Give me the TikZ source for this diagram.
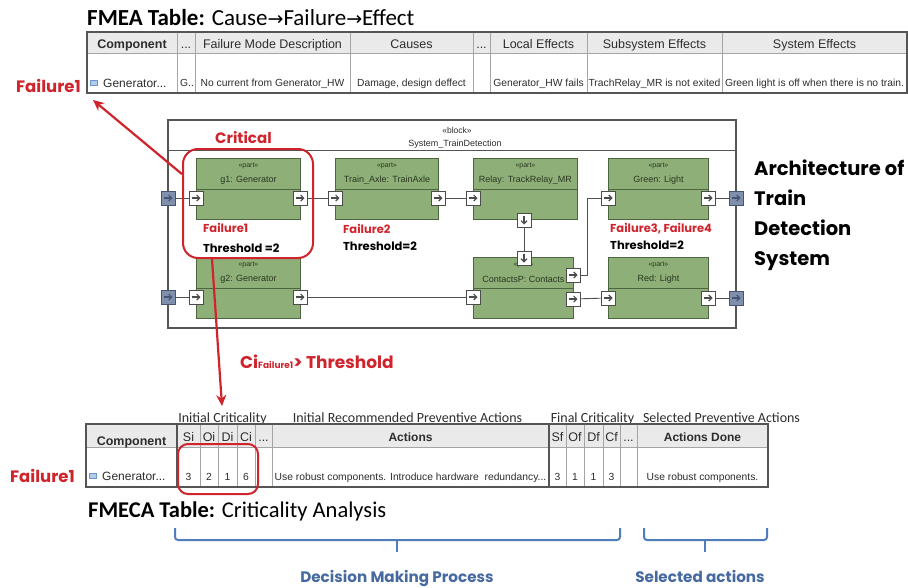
\documentclass[tikz,border=0pt]{standalone}
\usepackage{fontspec}
\setmainfont{Carlito}
\newfontfamily\tw{Poppins}
\newfontfamily\tab{Liberation Sans}
\newfontfamily\dv{DejaVu Sans}
\usetikzlibrary{arrows.meta}
\definecolor{redc}{RGB}{208,36,44}
\definecolor{partfill}{RGB}{143,175,120}
\definecolor{partdraw}{RGB}{78,102,64}
\definecolor{parttext}{RGB}{40,55,30}
\definecolor{bportfill}{RGB}{128,144,172}
\definecolor{bportdraw}{RGB}{70,85,115}
\definecolor{braceblue}{RGB}{79,125,185}
\definecolor{bluetext}{RGB}{70,106,160}
\definecolor{hdrfill}{RGB}{234,234,234}
\definecolor{gridc}{RGB}{165,165,165}
\definecolor{framec}{RGB}{85,85,85}
\definecolor{tabtext}{RGB}{45,45,45}
\definecolor{connc}{RGB}{80,80,80}
\tikzset{
  twb/.style={font=\tw\bfseries\fontsize{#1}{#1}\selectfont, inner sep=0pt},
  hdr/.style={anchor=base, font=\tab\fontsize{12.5}{13}\selectfont, text=tabtext, inner sep=0pt},
  cell/.style={anchor=base, font=\tab\fontsize{10.3}{11}\selectfont, text=tabtext, inner sep=0pt},
  above/.style={anchor=base, font=\fontsize{14}{14}\selectfont, text=tabtext, inner sep=0pt},
  partbox/.style={draw=partdraw, fill=partfill, line width=0.9pt, anchor=north west, inner sep=0pt},
  pstereo/.style={font=\tab\fontsize{7}{7}\selectfont, text=parttext},
  pname/.style={font=\tab\fontsize{9}{9}\selectfont, text=parttext},
  port/.style={draw=black!70, fill=white, minimum size=14pt, inner sep=0pt, line width=0.7pt},
  rport/.style={port, path picture={\draw[-{Straight Barb[length=3pt,width=6pt]}, line width=1.1pt] ([xshift=-4.5pt]path picture bounding box.center) -- ([xshift=4.5pt]path picture bounding box.center);}},
  dport/.style={port, path picture={\draw[-{Straight Barb[length=3pt,width=6pt]}, line width=1.1pt] ([yshift=4.5pt]path picture bounding box.center) -- ([yshift=-4.5pt]path picture bounding box.center);}},
  bport/.style={rport, fill=bportfill, draw=bportdraw},
  conn/.style={draw=connc, line width=0.9pt},
  redline/.style={draw=redc, line width=2.2pt, -{Stealth[length=11pt,width=10pt]}},
  critbox/.style={draw=redc, line width=2pt, anchor=north west, inner sep=0pt},
  bracel/.style={draw=braceblue, line width=2pt},
}
\begin{document}
\begin{tikzpicture}[x=1pt,y=-1pt]
\fill[white] (0,0) rectangle (908,587);
\useasboundingbox (0,0) rectangle (908,587);

% ---------------- FMEA title and table ----------------
\node[anchor=base west, inner sep=0pt, font=\fontsize{23}{23}\selectfont] (t1) at (87,25)
  {\textbf{FMEA Table:} Cause{\dv\fontsize{19}{19}\selectfont →}Failure{\dv\fontsize{19}{19}\selectfont →}Effect};
\fill[hdrfill] (87,32) rectangle (907,53);
\draw[gridc, line width=0.7pt] (87,53) -- (907,53);
\foreach \x in {177,195,350,473,490,587,722} \draw[gridc, line width=0.7pt] (\x,32) -- (\x,93);
\draw[framec, line width=1.6pt] (87,32) rectangle (907,93);
\node[hdr, font=\tab\bfseries\fontsize{12.5}{13}\selectfont] (h1) at (132,48) {Component};
\node[hdr] (h2) at (186,48) {...};
\node[hdr] (h3) at (272.5,48) {Failure Mode Description};
\node[hdr] (h4) at (411.5,48) {Causes};
\node[hdr] (h5) at (481.5,48) {...};
\node[hdr] (h6) at (538.5,48) {Local Effects};
\node[hdr] (h7) at (654.5,48) {Subsystem Effects};
\node[hdr] (h8) at (814.5,48) {System Effects};
\node[draw={rgb,255:red,110;green,150;blue,200}, fill={rgb,255:red,175;green,205;blue,235}, minimum width=7pt, minimum height=5pt, inner sep=0pt, line width=0.5pt] (ic1) at (94,83) {};
\node[cell, anchor=base west, font=\tab\fontsize{12}{12}\selectfont] (d1) at (103,87) {Generator...};
\node[cell, anchor=base west] (d2) at (180,86) {G..};
\node[cell] (d3) at (272.5,86) {No current from Generator\_HW};
\node[cell] (d4) at (411.5,86) {Damage, design deffect};
\node[cell] (d6) at (538.5,86) {Generator\_HW fails};
\node[cell] (d7) at (654.5,86) {TrachRelay\_MR is not exited};
\node[cell] (d8) at (814.5,86) {Green light is off when there is no train.};
\node[twb=16.5, text=redc, anchor=base west] (f1a) at (16,92) {Failure1};
\coordinate (fmeatip) at (93,100);

% ---------------- Block ----------------
\draw[framec, line width=1.1pt] (168,120) rectangle (736,328);
\draw[framec, line width=0.9pt] (168,150) -- (736,150);
\node[font=\tab\fontsize{8.5}{9}\selectfont, text=tabtext] (blk) at (457,130) {«block»};
\node[font=\tab\fontsize{9}{9}\selectfont, text=tabtext] (blkn) at (455,144) {System\_TrainDetection};

% parts
\node[partbox, minimum width=104pt, minimum height=61pt] (g1) at (196,158) {};
\node[partbox, minimum width=103pt, minimum height=61pt] (tr) at (335,158) {};
\node[partbox, minimum width=104pt, minimum height=61pt] (rl) at (473,158) {};
\node[partbox, minimum width=100pt, minimum height=61pt] (gr) at (608,158) {};
\node[partbox, minimum width=104pt, minimum height=61pt] (g2) at (196,257) {};
\node[partbox, minimum width=100pt, minimum height=61pt] (ct) at (473,257) {};
\node[partbox, minimum width=100pt, minimum height=61pt] (rd) at (608,257) {};
\foreach \p in {g1,tr,rl,gr,g2,ct,rd}
  \draw[partdraw, line width=0.8pt] ([yshift=-31pt]\p.north west) -- ([yshift=-31pt]\p.north east);
\node[pstereo] (g1s) at ([yshift=-8pt]g1.north) {«part»};
\node[pname] (g1n) at ([yshift=-22pt]g1.north) {g1: Generator};
\node[pstereo] (trs) at ([yshift=-8pt]tr.north) {«part»};
\node[pname] (trn) at ([yshift=-22pt]tr.north) {Train\_Axle: TrainAxle};
\node[pstereo] (rls) at ([yshift=-8pt]rl.north) {«part»};
\node[pname] (rln) at ([yshift=-22pt]rl.north) {Relay: TrackRelay\_MR};
\node[pstereo] (grs) at ([yshift=-8pt]gr.north) {«part»};
\node[pname] (grn) at ([yshift=-22pt]gr.north) {Green: Light};
\node[pstereo] (g2s) at ([yshift=-8pt]g2.north) {«part»};
\node[pname] (g2n) at ([yshift=-22pt]g2.north) {g2: Generator};
\node[pstereo] (cts) at ([yshift=-8pt]ct.north) {«part»};
\node[pname] (ctn) at ([yshift=-22pt]ct.north) {ContactsP: Contacts};
\node[pstereo] (rds) at ([yshift=-8pt]rd.north) {«part»};
\node[pname] (rdn) at ([yshift=-22pt]rd.north) {Red: Light};

% ports
\node[bport] (bl1) at (168,198) {};
\node[bport] (bl2) at (168,297) {};
\node[rport] (g1in) at (196,198) {};
\node[rport] (g1out) at (300,198) {};
\node[rport] (trin) at (335,198) {};
\node[rport] (trout) at (438,198) {};
\node[rport] (rlin) at (473,198) {};
\node[dport] (rldn) at (524,220) {};
\node[dport] (ctop) at (524,258) {};
\node[rport] (g2in) at (196,297) {};
\node[rport] (g2out) at (300,297) {};
\node[rport] (cin) at (473,297) {};
\node[rport] (cout1) at (573,275) {};
\node[rport] (cout2) at (573,299) {};
\node[rport] (grin) at (608,198) {};
\node[rport] (grout) at (708,198) {};
\node[bport] (grext) at (736,198) {};
\node[rport] (rdin) at (608,298) {};
\node[rport] (rdout) at (708,298) {};
\node[bport] (rdext) at (736,298) {};

% connectors
\draw[conn] (bl1) -- (g1in);
\draw[conn] (g1out) -- (trin);
\draw[conn] (trout) -- (rlin);
\draw[conn] (rldn) -- (ctop);
\draw[conn] (cout1.east) -- ++(7,0) |- (grin.west);
\draw[conn] (cout2) -- (rdin);
\draw[conn] (grout) -- (grext);
\draw[conn] (rdout) -- (rdext);
\draw[conn] (bl2) -- (g2in);
\draw[conn] (g2out) -- (cin);

% failure annotations
\node[critbox, rounded corners=15pt, minimum width=130pt, minimum height=109pt] (crit) at (182,148) {};
\node[twb=15, text=redc, anchor=base west] (critl) at (215,143) {Critical};
\node[twb=11.5, text=redc, anchor=base west] (f1b) at (203,232) {Failure1};
\node[twb=11.5, anchor=base west] (th1) at (203,252) {Threshold =2};
\node[twb=11.5, text=redc, anchor=base west] (f2) at (343,233) {Failure2};
\node[twb=11.5, anchor=base west] (th2) at (343,250) {Threshold=2};
\node[twb=11.5, text=redc, anchor=base west] (f34) at (610,232) {Failure3, Failure4};
\node[twb=11.5, anchor=base west] (th3) at (610,249) {Threshold=2};

\node[twb=19.5, anchor=base west] (a1) at (754,175) {Architecture of};
\node[twb=19.5, anchor=base west] (a2) at (754,205) {Train};
\node[twb=19.5, anchor=base west] (a3) at (754,235) {Detection};
\node[twb=19.5, anchor=base west] (a4) at (754,265) {System};

\draw[redline] (crit.156) -- (fmeatip);
\coordinate (fmecatip) at (222,406);
\draw[redline] ([xshift=-36pt]crit.south) -- (fmecatip);
\node[anchor=base west, inner sep=0pt, text=redc, font=\tw\bfseries\fontsize{17}{17}\selectfont] (cil) at (240,368)
  {Ci{\fontsize{9}{9}\selectfont Failure1}> Threshold};

% ---------------- FMECA table ----------------
\node[above] (u1) at (222.5,422) {Initial Criticality};
\node[above] (u2) at (407.5,422) {Initial Recommended Preventive Actions};
\node[above] (u3) at (592.5,422) {Final Criticality};
\node[above] (u4) at (721.5,422) {Selected Preventive Actions};
\fill[hdrfill] (86,424) rectangle (768,447);
\fill[white] (86,447) rectangle (768,487);
\draw[gridc, line width=0.7pt] (86,447) -- (768,447);
\foreach \x in {200,218,237,255,272,566,584,603,620,637} \draw[gridc, line width=0.7pt] (\x,424) -- (\x,487);
\foreach \x in {177,549} \draw[framec, line width=1.2pt] (\x,424) -- (\x,487);
\draw[framec, line width=1.6pt] (86,424) rectangle (768,487);
\node[hdr, font=\tab\bfseries\fontsize{12.5}{13}\selectfont] (k1) at (131.5,445) {Component};
\node[hdr] (k2) at (188.5,441) {Si};
\node[hdr] (k3) at (209,441) {Oi};
\node[hdr] (k4) at (227.5,441) {Di};
\node[hdr] (k5) at (246,441) {Ci};
\node[hdr] (k6) at (263.5,441) {...};
\node[hdr, font=\tab\bfseries\fontsize{12}{13}\selectfont] (k7) at (410.5,441) {Actions};
\node[hdr] (k8) at (557.5,441) {Sf};
\node[hdr] (k9) at (575,441) {Of};
\node[hdr] (k10) at (593.5,441) {Df};
\node[hdr] (k11) at (611.5,441) {Cf};
\node[hdr] (k12) at (628.5,441) {...};
\node[hdr, font=\tab\bfseries\fontsize{12}{13}\selectfont] (k13) at (702.5,441) {Actions Done};
\node[draw={rgb,255:red,110;green,150;blue,200}, fill={rgb,255:red,175;green,205;blue,235}, minimum width=7pt, minimum height=5pt, inner sep=0pt, line width=0.5pt] (ic2) at (93,476) {};
\node[cell, anchor=base west, font=\tab\fontsize{12}{12}\selectfont] (e1) at (102,480) {Generator...};
\node[cell] (e2) at (188.5,480) {3};
\node[cell] (e3) at (209,480) {2};
\node[cell] (e4) at (227.5,480) {1};
\node[cell] (e5) at (246,480) {6};
\node[cell] (e7) at (410.5,480) {Use robust components. Introduce hardware\ \ redundancy...};
\node[cell] (e8) at (557.5,480) {3};
\node[cell] (e9) at (575,480) {1};
\node[cell] (e10) at (593.5,480) {1};
\node[cell] (e11) at (611.5,480) {3};
\node[cell] (e13) at (702.5,480) {Use robust components.};
\node[critbox, rounded corners=10pt, minimum width=80pt, minimum height=50pt] (crit2) at (177,443) {};
\node[twb=16.5, text=redc, anchor=base west] (f1c) at (10,482) {Failure1};

\node[anchor=base west, inner sep=0pt, font=\fontsize{22.5}{23}\selectfont] (t2) at (88,517)
  {\textbf{FMECA Table:} Criticality Analysis};

% braces
\draw[bracel, rounded corners=3pt] (175,528) -- (175,540) -- (620,540) -- (620,528);
\draw[bracel] (397,540) -- (397,552);
\draw[bracel, rounded corners=3pt] (644,528) -- (644,540) -- (767,540) -- (767,528);
\draw[bracel] (705,540) -- (705,552);
\node[twb=15.2, text=bluetext, anchor=base] (dm) at (397,582) {Decision Making Process};
\node[twb=15.2, text=bluetext, anchor=base] (sa) at (700,582) {Selected actions};
\end{tikzpicture}
\end{document}
